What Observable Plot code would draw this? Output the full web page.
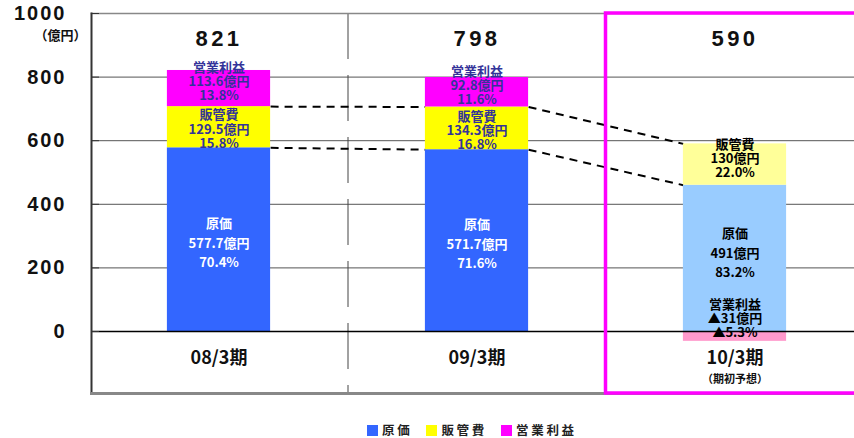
<!DOCTYPE html>
<html>
<head>
<meta charset="utf-8">
<script src="https://cdn.jsdelivr.net/npm/d3@7"></script>
<script src="https://cdn.jsdelivr.net/npm/@observablehq/plot@0.6"></script>
<style>
  html, body { margin: 0; padding: 0; background: #fff; overflow: hidden; }
  #chart { position: relative; width: 854px; height: 438px; }
  #legend { position: absolute; top: 423px; left: 367px; display: flex; align-items: center; line-height: 14px; height: 14px;
    font-family: "Noto Sans CJK JP", sans-serif; font-weight: bold; font-size: 12.5px; letter-spacing: 2.7px; color: #222; white-space: nowrap; }
  #legend .item { display: flex; align-items: center; margin-right: 14px; }
  #legend .sw { width: 11px; height: 11px; margin-right: 4px; }
</style>
</head>
<body>
<div id="chart"></div>
<script>
// ---- data ----
const categories = ["08/3期", "09/3期", "10/3期"];
const subLabels = ["", "", "（期初予想）"];
const seriesNames = ["原価", "販管費", "営業利益"];
const cost = [577.7, 571.7, 491];
const sga = [129.5, 134.3, 130];
const profit = [113.6, 92.8, -31];
const costPct = [70.4, 71.6, 83.2];
const sgaPct = [15.8, 16.8, 22.0];
const profitPct = [13.8, 11.6, -5.3];
const totals = [821, 798, 590];
const yTicks = [0, 200, 400, 600, 800, 1000];
const gridTicks = [200, 400, 600, 800];
const highlight = "10/3期";

// ---- styles ----
const actualColors = ["#3366FF", "#FFFF00", "#FF00FF"];
const forecastColors = ["#99CCFF", "#FFFF99", "#FF99CC"];
const hw = 0.2; // half bar width in category units
const labelDy = {actual: [2, 2, -7], forecast: [-7, -6, -18]};

const fmtV = v => v < 0 ? "▲" + Math.abs(v) : String(v);
const fmtP = v => v < 0 ? "▲" + Math.abs(v).toFixed(1) : v.toFixed(1);

const segs = categories.flatMap((c, i) => {
  const neg = Math.min(profit[i], 0);
  const costTop = cost[i] + neg;
  const sgaTop = costTop + sga[i];
  const fc = c === highlight;
  const vals = [cost[i], sga[i], profit[i]];
  const pcts = [costPct[i], sgaPct[i], profitPct[i]];
  const ranges = [[0, costTop], [costTop, sgaTop], profit[i] >= 0 ? [sgaTop, sgaTop + profit[i]] : [0, profit[i]]];
  return [0, 1, 2].map(k => ({
    i, k, fc, y1: ranges[k][0], y2: ranges[k][1],
    top: ranges[k][1],
    label: `${seriesNames[k]}\n${fmtV(vals[k])}億円\n${fmtP(pcts[k])}%`,
    fill: (fc ? forecastColors : actualColors)[k],
    textFill: fc ? "#000" : (k === 0 ? "#fff" : "#333399")
  }));
});

const links = [];
for (let i = 0; i < categories.length - 1; i++) {
  for (const k of [0, 1]) {
    const a = segs.find(s => s.i === i && s.k === k);
    const b = segs.find(s => s.i === i + 1 && s.k === k);
    links.push({x1: i + hw, x2: i + 1 - hw, y1: a.top, y2: b.top});
  }
}

const hiIndex = categories.indexOf(highlight);
const numFont = "Liberation Sans, Arial, sans-serif";
const jpFont = "Noto Sans CJK JP, sans-serif";

const labelMarks = [false, true].flatMap(fc => [0, 1, 2].map(k =>
  Plot.text(segs.filter(d => d.fc === fc && d.k === k), {
    x: "i", y: d => (d.y1 + d.y2) / 2, dy: (fc ? labelDy.forecast : labelDy.actual)[k],
    text: "label", fill: "textFill", lineAnchor: "middle",
    lineHeight: k === 0 ? 1.5 : 1.1, fontSize: 13, fontWeight: "bold", fontFamily: jpFont
  })
));

const plot = Plot.plot({
  width: 854,
  height: 405,
  marginTop: 13,
  marginLeft: 91,
  marginRight: 0,
  marginBottom: 12,
  x: {domain: [-0.5, categories.length - 0.5], range: [89.5, 863.5], axis: null},
  y: {domain: [-195, 1000], range: [393, 13], axis: null},
  marks: [
    Plot.ruleY(gridTicks, {stroke: "#555", strokeWidth: 1}),
    Plot.ruleX(categories.slice(0, -1).map((c, i) => i + 0.5), {stroke: "#444", strokeWidth: 1, strokeDasharray: "46,16"}),
    Plot.link(links, {x1: "x1", x2: "x2", y1: "y1", y2: "y2", stroke: "#000", strokeWidth: 2, strokeDasharray: "8,6"}),
    Plot.rectY(segs, {x1: d => d.i - hw, x2: d => d.i + hw, y1: "y1", y2: "y2", fill: d => d.fill}),
    Plot.ruleY([0], {stroke: "#000", strokeWidth: 1.5}),
    Plot.frame({anchor: "top", stroke: "#888", strokeWidth: 1.5}),
    Plot.frame({anchor: "left", stroke: "#333", strokeWidth: 2}),
    Plot.frame({anchor: "bottom", stroke: "#888", strokeWidth: 3}),
    Plot.rect([highlight], {x1: () => hiIndex - 0.5, x2: () => hiIndex + 0.5, fill: "none", stroke: "#FF00FF", strokeWidth: 3.5}),
    Plot.axisY({ticks: yTicks, tickSize: 8, tickFormat: () => "", dx: 8, stroke: "#333"}),
    Plot.text(yTicks, {y: d => d, text: d => String(d), frameAnchor: "left", textAnchor: "end", lineAnchor: "middle", dx: -25,
      fontSize: 20, fontWeight: "bold", fontFamily: numFont, fill: "#111", ariaDescription: "yticks"}),
    Plot.text(["（億円）"], {y: () => 1000, frameAnchor: "left", lineAnchor: "middle", dx: -57, dy: 22, fontSize: 13, fontWeight: "bold", fontFamily: jpFont, fill: "#111"}),
    Plot.text(totals, {x: (d, i) => i, text: d => String(d), frameAnchor: "top", lineAnchor: "middle", dy: 25,
      fontSize: 22, fontWeight: "bold", fontFamily: numFont, fill: "#111", ariaDescription: "totals"}),
    Plot.text(categories, {x: (d, i) => i, text: d => d, frameAnchor: "bottom", lineAnchor: "middle", dy: -35,
      fontSize: 18, fontWeight: "bold", fontFamily: jpFont, fill: "#111"}),
    Plot.text(subLabels, {x: (d, i) => i, text: d => d, frameAnchor: "bottom", lineAnchor: "middle", dy: -14,
      fontSize: 11, fontWeight: "bold", fontFamily: jpFont, fill: "#111"}),
    ...labelMarks
  ]
});

d3.select(plot).selectAll('[aria-description="totals"] text').style("letter-spacing", "3.5px");
d3.select(plot).selectAll('[aria-description="yticks"] text').style("letter-spacing", "2px");

const chart = document.getElementById("chart");
chart.appendChild(plot);

const legend = document.createElement("div");
legend.id = "legend";
seriesNames.forEach((n, k) => {
  const item = document.createElement("div");
  item.className = "item";
  const sw = document.createElement("div");
  sw.className = "sw";
  sw.style.background = actualColors[k];
  const t = document.createElement("span");
  t.textContent = n;
  item.appendChild(sw);
  item.appendChild(t);
  legend.appendChild(item);
});
chart.appendChild(legend);
</script>
</body>
</html>
